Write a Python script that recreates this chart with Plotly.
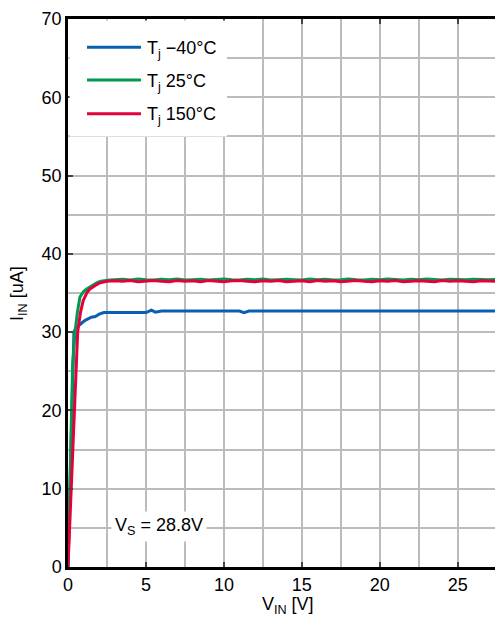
import plotly.graph_objects as go

# ---- data ----
plateau_x = [3.0 + 0.5 * i for i in range(51)]

blue_x = [0, 0.1, 0.2, 0.3, 0.38, 0.5, 0.7, 0.9, 1.1, 1.3, 1.5, 1.75, 2.0, 2.3, 2.6,
          3, 4, 5, 5.35, 5.6, 6, 7, 8, 9, 10, 11, 11.3, 11.6, 12, 14, 16, 18, 20, 22, 24, 26, 28]
blue_y = [0, 8, 16, 24, 30, 30.5, 30.9, 31.2, 31.5, 31.7, 31.9, 32.0, 32.3, 32.5, 32.5,
          32.5, 32.5, 32.5, 32.8, 32.55, 32.7, 32.7, 32.7, 32.7, 32.7, 32.7, 32.5, 32.7, 32.7,
          32.7, 32.7, 32.7, 32.7, 32.7, 32.7, 32.7, 32.7]

green_x = [0, 0.1, 0.2, 0.3, 0.45, 0.6, 0.77, 1.0, 1.2, 1.5, 1.84, 2.1, 2.4, 2.7] + plateau_x
green_y = [0, 10, 20, 26, 30, 32.5, 34.5, 35.2, 35.5, 35.9, 36.3, 36.5, 36.6, 36.65,
           36.7, 36.75, 36.65, 36.8, 36.7, 36.65, 36.75, 36.7, 36.8, 36.65, 36.7, 36.75,
           36.65, 36.7, 36.8, 36.7, 36.65, 36.75, 36.7, 36.8, 36.65, 36.7, 36.75, 36.7,
           36.65, 36.8, 36.7, 36.75, 36.65, 36.7, 36.8, 36.7, 36.65, 36.75, 36.7, 36.8,
           36.7, 36.65, 36.75, 36.7, 36.8, 36.7, 36.65, 36.75, 36.7, 36.7, 36.75, 36.7,
           36.7, 36.75, 36.7]

red_x = [0, 0.1, 0.2, 0.3, 0.38, 0.5, 0.62, 0.8, 0.97, 1.2, 1.4, 1.7, 2.05, 2.5] + plateau_x
red_y = [0, 5, 11, 16, 20, 25, 30, 32.5, 34.0, 35.0, 35.5, 35.9, 36.3, 36.5,
         36.55, 36.5, 36.6, 36.45, 36.55, 36.6, 36.5, 36.45, 36.6, 36.5, 36.55, 36.45,
         36.6, 36.5, 36.45, 36.55, 36.6, 36.5, 36.45, 36.55, 36.5, 36.6, 36.45, 36.5,
         36.55, 36.45, 36.6, 36.5, 36.55, 36.45, 36.5, 36.6, 36.5, 36.45, 36.55, 36.5,
         36.6, 36.45, 36.5, 36.55, 36.5, 36.45, 36.6, 36.5, 36.55, 36.5, 36.45, 36.55,
         36.5, 36.5, 36.55]

series_names = ["T<sub>j</sub> \u221240\u00b0C", "T<sub>j</sub> 25\u00b0C", "T<sub>j</sub> 150\u00b0C"]
series_colors = ["#0a5fb0", "#009a50", "#e4003a"]
legend_key_y = [66.4, 62.2, 57.9]

FONT = "Liberation Sans, Arial, Helvetica, sans-serif"
FS = 18

fig = go.Figure()
for xs, ys, name, col in zip([blue_x, green_x, red_x], [blue_y, green_y, red_y],
                             series_names, series_colors):
    fig.add_trace(go.Scatter(x=xs, y=ys, mode="lines", name=name,
                             line=dict(color=col, width=3), showlegend=False))

# white box behind legend hiding gridlines
fig.add_shape(type="rect", xref="x", yref="y", x0=0.1, x1=10.2, y0=55, y1=69.8,
              fillcolor="white", line=dict(width=0), layer="above")

# legend keys drawn manually (longer key lines than plotly's built-in legend)
for name, col, ky in zip(series_names, series_colors, legend_key_y):
    fig.add_shape(type="line", xref="x", yref="y", x0=1.22, x1=4.68, y0=ky, y1=ky,
                  line=dict(color=col, width=3), layer="above")
    fig.add_annotation(x=4.94, y=ky, xref="x", yref="y", text=name, showarrow=False,
                       xanchor="left", yanchor="middle", yshift=-2,
                       font=dict(size=FS, color="black", family=FONT))

fig.add_annotation(x=5.83, y=5.2, xref="x", yref="y",
                   text="V<sub>S</sub> = 28.8V", showarrow=False,
                   bgcolor="white", font=dict(size=FS, color="black", family=FONT),
                   borderpad=3)

# axis titles
fig.add_annotation(x=14.1, y=-0.07, xref="x", yref="paper",
                   text="V<sub>IN</sub> [V]", showarrow=False,
                   xanchor="center", yanchor="middle",
                   font=dict(size=FS, color="black", family=FONT))
fig.add_annotation(x=-0.115, y=0.5, xref="paper", yref="paper",
                   text="I<sub>IN</sub> [uA]", showarrow=False, textangle=-90,
                   xanchor="center", yanchor="middle",
                   font=dict(size=FS, color="black", family=FONT))

fig.update_layout(
    width=495, height=613,
    margin=dict(l=60, r=0, t=11, b=54),
    paper_bgcolor="white", plot_bgcolor="white",
    font=dict(family=FONT, size=FS, color="black"),
    showlegend=False,
    xaxis=dict(range=[0, 27.9], dtick=5, tick0=0, showgrid=True, automargin=False,
               gridcolor="#bcbcbc", gridwidth=1.5,
               minor=dict(dtick=2.5, showgrid=True, gridcolor="#bcbcbc", gridwidth=1.5),
               showline=True, linecolor="black", linewidth=2.5, mirror="ticks",
               ticks="inside", ticklen=5, tickwidth=2, tickcolor="#444",
               zeroline=False, tickfont=dict(size=FS)),
    yaxis=dict(range=[0, 70], dtick=10, tick0=0, showgrid=True, automargin=False,
               gridcolor="#bcbcbc", gridwidth=1.5,
               minor=dict(dtick=5, showgrid=True, gridcolor="#bcbcbc", gridwidth=1.5),
               showline=True, linecolor="black", linewidth=2.5, mirror=False,
               ticks="inside", ticklen=5, tickwidth=2, tickcolor="#444",
               zeroline=False, tickfont=dict(size=FS)),
)

fig.write_html("out.html")
